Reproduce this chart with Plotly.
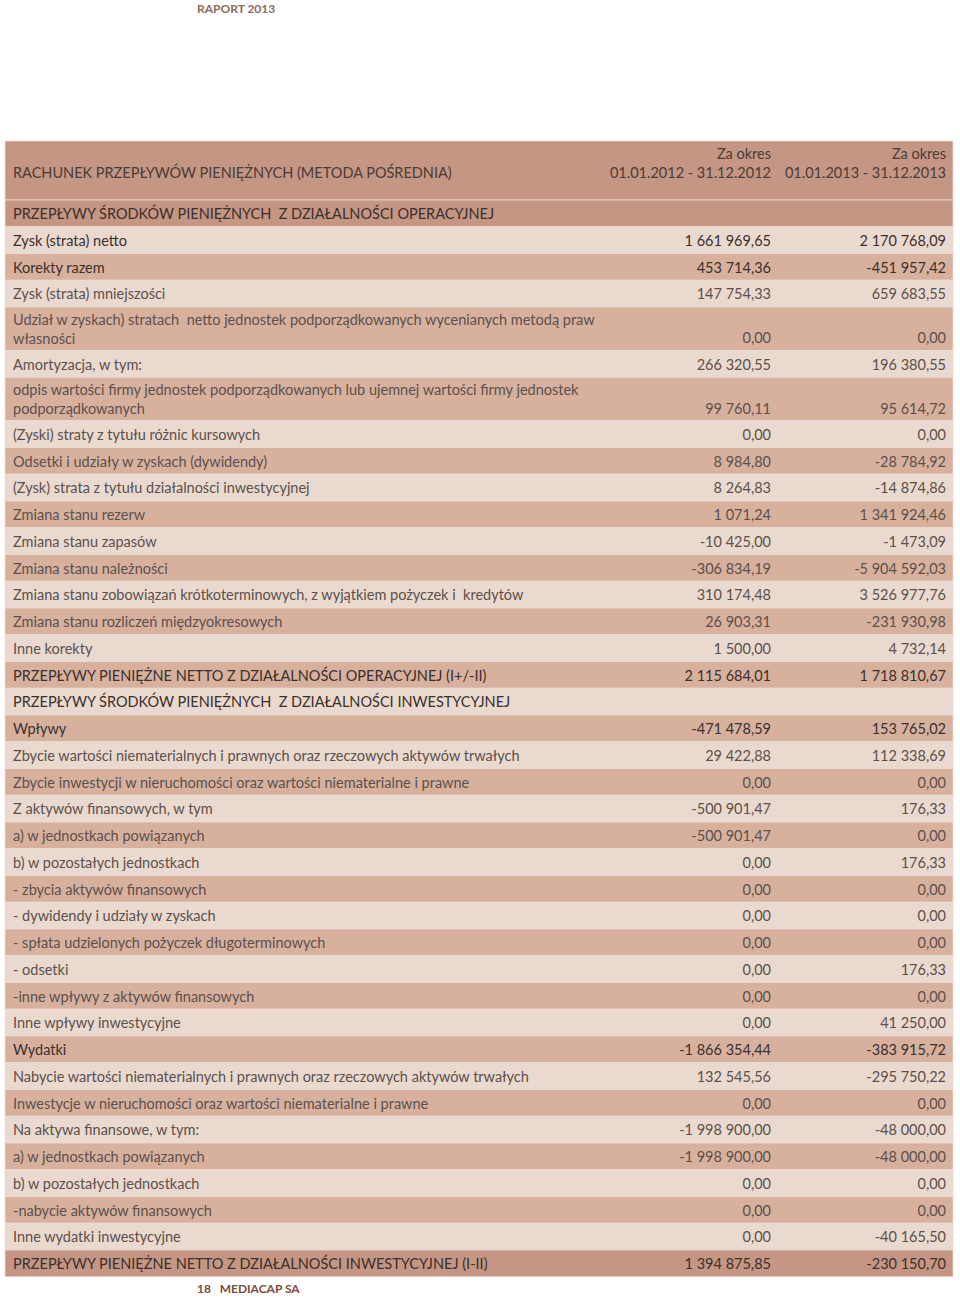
import plotly.graph_objects as go

# ---------------- data ----------------
title_label = "RACHUNEK PRZEPŁYWÓW PIENIĘŻNYCH (METODA POŚREDNIA)"
period_labels = ["Za okres<br>01.01.2012 - 31.12.2012", "Za okres<br>01.01.2013 - 31.12.2013"]

labels = [
    "PRZEPŁYWY ŚRODKÓW PIENIĘŻNYCH  Z DZIAŁALNOŚCI OPERACYJNEJ",
    "Zysk (strata) netto",
    "Korekty razem",
    "Zysk (strata) mniejszości",
    "Udział w zyskach) stratach  netto jednostek podporządkowanych wycenianych metodą praw<br>własności",
    "Amortyzacja, w tym:",
    "odpis wartości firmy jednostek podporządkowanych lub ujemnej wartości firmy jednostek<br>podporządkowanych",
    "(Zyski) straty z tytułu różnic kursowych",
    "Odsetki i udziały w zyskach (dywidendy)",
    "(Zysk) strata z tytułu działalności inwestycyjnej",
    "Zmiana stanu rezerw",
    "Zmiana stanu zapasów",
    "Zmiana stanu należności",
    "Zmiana stanu zobowiązań krótkoterminowych, z wyjątkiem pożyczek i  kredytów",
    "Zmiana stanu rozliczeń międzyokresowych",
    "Inne korekty",
    "PRZEPŁYWY PIENIĘŻNE NETTO Z DZIAŁALNOŚCI OPERACYJNEJ (I+/-II)",
    "PRZEPŁYWY ŚRODKÓW PIENIĘŻNYCH  Z DZIAŁALNOŚCI INWESTYCYJNEJ",
    "Wpływy",
    "Zbycie wartości niematerialnych i prawnych oraz rzeczowych aktywów trwałych",
    "Zbycie inwestycji w nieruchomości oraz wartości niematerialne i prawne",
    "Z aktywów finansowych, w tym",
    "a) w jednostkach powiązanych",
    "b) w pozostałych jednostkach",
    "- zbycia aktywów finansowych",
    "- dywidendy i udziały w zyskach",
    "- spłata udzielonych pożyczek długoterminowych",
    "- odsetki",
    "-inne wpływy z aktywów finansowych",
    "Inne wpływy inwestycyjne",
    "Wydatki",
    "Nabycie wartości niematerialnych i prawnych oraz rzeczowych aktywów trwałych",
    "Inwestycje w nieruchomości oraz wartości niematerialne i prawne",
    "Na aktywa finansowe, w tym:",
    "a) w jednostkach powiązanych",
    "b) w pozostałych jednostkach",
    "-nabycie aktywów finansowych",
    "Inne wydatki inwestycyjne",
    "PRZEPŁYWY PIENIĘŻNE NETTO Z DZIAŁALNOŚCI INWESTYCYJNEJ (I-II)",
]

values_2012 = [
    "", "1 661 969,65", "453 714,36", "147 754,33", "0,00", "266 320,55",
    "99 760,11", "0,00", "8 984,80", "8 264,83", "1 071,24", "-10 425,00",
    "-306 834,19", "310 174,48", "26 903,31", "1 500,00", "2 115 684,01", "",
    "-471 478,59", "29 422,88", "0,00", "-500 901,47", "-500 901,47", "0,00",
    "0,00", "0,00", "0,00", "0,00", "0,00", "0,00", "-1 866 354,44",
    "132 545,56", "0,00", "-1 998 900,00", "-1 998 900,00", "0,00", "0,00",
    "0,00", "1 394 875,85",
]

values_2013 = [
    "", "2 170 768,09", "-451 957,42", "659 683,55", "0,00", "196 380,55",
    "95 614,72", "0,00", "-28 784,92", "-14 874,86", "1 341 924,46", "-1 473,09",
    "-5 904 592,03", "3 526 977,76", "-231 930,98", "4 732,14", "1 718 810,67", "",
    "153 765,02", "112 338,69", "0,00", "176,33", "0,00", "176,33",
    "0,00", "0,00", "0,00", "176,33", "0,00", "41 250,00", "-383 915,72",
    "-295 750,22", "0,00", "-48 000,00", "-48 000,00", "0,00", "0,00",
    "-40 165,50", "-230 150,70",
]

emphasized = {
    "Zysk (strata) netto", "Korekty razem", "Wpływy", "Wydatki",
    "PRZEPŁYWY ŚRODKÓW PIENIĘŻNYCH  Z DZIAŁALNOŚCI OPERACYJNEJ",
    "PRZEPŁYWY PIENIĘŻNE NETTO Z DZIAŁALNOŚCI OPERACYJNEJ (I+/-II)",
    "PRZEPŁYWY ŚRODKÓW PIENIĘŻNYCH  Z DZIAŁALNOŚCI INWESTYCYJNEJ",
    "PRZEPŁYWY PIENIĘŻNE NETTO Z DZIAŁALNOŚCI INWESTYCYJNEJ (I-II)",
}

# ---------------- style / layout ----------------
DARK = "#C59683"
MID = "#D7B09E"
LIGHT = "#EAD9CF"
TXT_NORMAL = "#5c504b"
TXT_STRONG = "#3a302c"
FONT = "Lato"
FS = 14.5

TABLE_LEFT, TABLE_RIGHT = 5, 953
TABLE_TOP = 141
HEADER_H = 59
SINGLE_H = 26.75
DOUBLE_H = 43.5
LINE_GAP = 18
TEXT_DY = 2
LABEL_X = 13
COL_RIGHT = [771, 946]

n = len(labels)
nlines = [lab.count("<br>") + 1 for lab in labels]
heights = [SINGLE_H if k == 1 else DOUBLE_H for k in nlines]

tops = []
y = TABLE_TOP + HEADER_H
for h in heights:
    tops.append(y)
    y += h
centers = [t + h / 2 for t, h in zip(tops, heights)]

fills = []
for i in range(n):
    if i == 0 or i == n - 1:
        fills.append(DARK)
    elif i % 2 == 1:
        fills.append(LIGHT)
    else:
        fills.append(MID)
text_colors = [TXT_STRONG if lab in emphasized else TXT_NORMAL for lab in labels]

fig = go.Figure()

# header band + row bands
band_y = [TABLE_TOP + HEADER_H / 2] + centers
band_w = [HEADER_H] + heights
band_c = [DARK] + fills
fig.add_trace(go.Bar(
    orientation="h",
    y=band_y,
    x=[TABLE_RIGHT - TABLE_LEFT] * len(band_y),
    base=TABLE_LEFT,
    width=band_w,
    marker=dict(color=band_c, line=dict(color="#EEDCD3", width=0.8)),
    hoverinfo="skip",
))

# header texts
fig.add_trace(go.Scatter(
    x=[LABEL_X], y=[TABLE_TOP + 31 + TEXT_DY], mode="text", text=[title_label],
    textposition="middle right",
    textfont=dict(family=FONT, size=FS, color="#4a3c36"), hoverinfo="skip",
))
fig.add_trace(go.Scatter(
    x=COL_RIGHT, y=[TABLE_TOP + 22 + TEXT_DY] * 2, mode="text", text=period_labels,
    textposition="middle left",
    textfont=dict(family=FONT, size=FS, color="#4a3c36"), hoverinfo="skip",
))

# row labels
fig.add_trace(go.Scatter(
    x=[LABEL_X] * n, y=[c + TEXT_DY for c in centers], mode="text", text=labels,
    textposition="middle right",
    textfont=dict(family=FONT, size=FS, color=text_colors), hoverinfo="skip",
))

# values (placed on the last text line of the row)
value_y = [c + TEXT_DY + (k - 1) * LINE_GAP / 2 for c, k in zip(centers, nlines)]
for xr, vals in zip(COL_RIGHT, [values_2012, values_2013]):
    fig.add_trace(go.Scatter(
        x=[xr] * n, y=value_y, mode="text", text=vals,
        textposition="middle left",
        textfont=dict(family=FONT, size=FS, color=text_colors), hoverinfo="skip",
    ))

fig.add_annotation(
    text="<b>RAPORT 2013</b>", x=195, y=8, xref="x", yref="y",
    xanchor="left", yanchor="middle", showarrow=False,
    font=dict(family=FONT, size=12, color="#8c6a5b"),
)
fig.add_annotation(
    text="<b>18   MEDIACAP SA</b>", x=195, y=1288, xref="x", yref="y",
    xanchor="left", yanchor="middle", showarrow=False,
    font=dict(family=FONT, size=12, color="#7d4b3c"),
)

fig.update_layout(
    width=960, height=1298,
    margin=dict(l=0, r=0, t=0, b=0),
    paper_bgcolor="white", plot_bgcolor="white",
    showlegend=False, hovermode=False, bargap=0,
    xaxis=dict(range=[0, 960], visible=False, fixedrange=True),
    yaxis=dict(range=[1298, 0], visible=False, fixedrange=True),
)

fig.write_html(
    "out.html",
    config={"displayModeBar": False, "staticPlot": True},
    post_script="document.body.style.margin='0';",
)
